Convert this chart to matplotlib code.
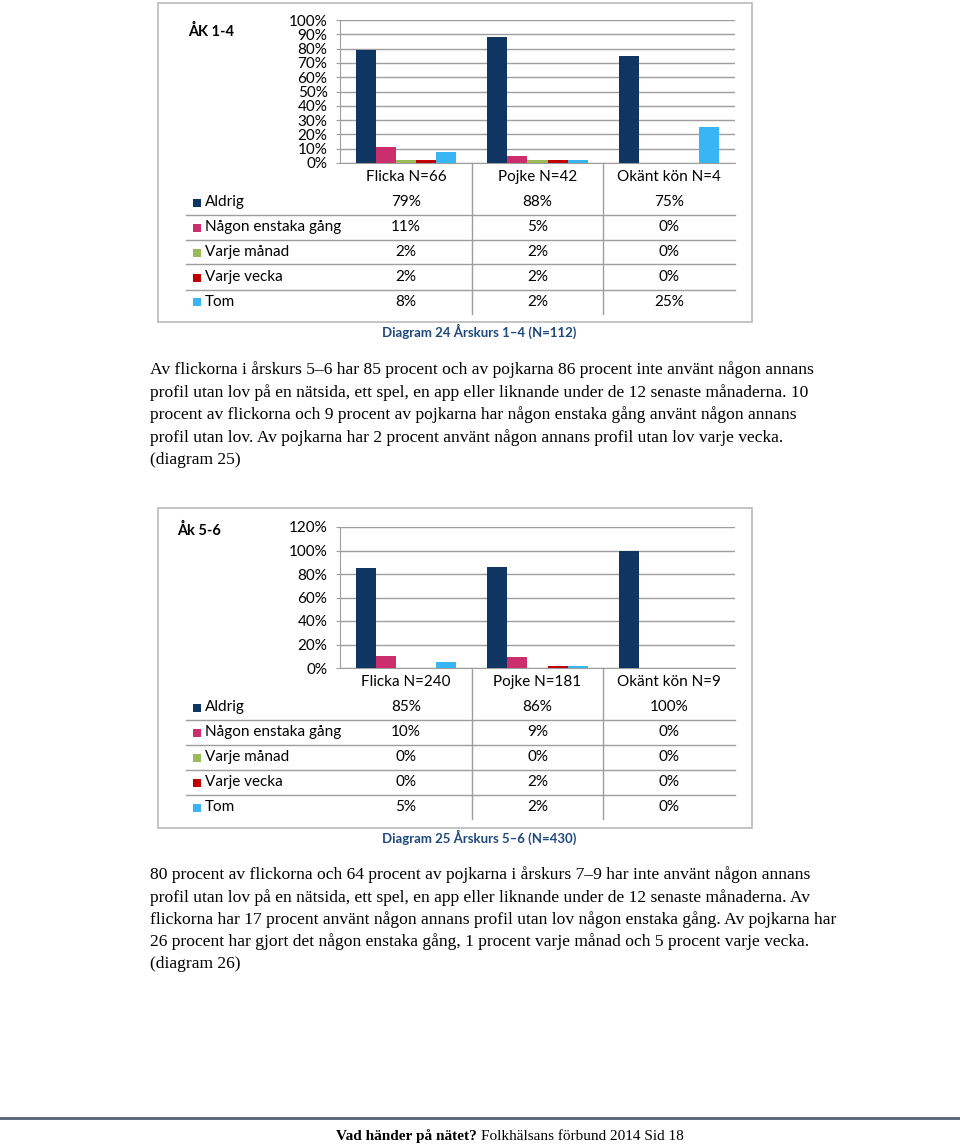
import matplotlib
matplotlib.use("Agg")
import matplotlib.pyplot as plt
from matplotlib.patches import Rectangle
from matplotlib.lines import Line2D
from matplotlib.ticker import PercentFormatter

W, H = 960, 1145

series = ["Aldrig", "Någon enstaka gång", "Varje månad", "Varje vecka", "Tom"]
colors = ["#0F3563", "#CC2D6C", "#9BBB59", "#C00000", "#38B6F4"]

cats1 = ["Flicka N=66", "Pojke N=42", "Okänt kön N=4"]
aldrig1 = [79, 88, 75]
nagon1 = [11, 5, 0]
manad1 = [2, 2, 0]
vecka1 = [2, 2, 0]
tom1 = [8, 2, 25]

cats2 = ["Flicka N=240", "Pojke N=181", "Okänt kön N=9"]
aldrig2 = [85, 86, 100]
nagon2 = [10, 9, 0]
manad2 = [0, 0, 0]
vecka2 = [0, 2, 0]
tom2 = [5, 2, 0]

para1 = [
    "Av flickorna i årskurs 5–6 har 85 procent och av pojkarna 86 procent inte använt någon annans",
    "profil utan lov på en nätsida, ett spel, en app eller liknande under de 12 senaste månaderna. 10",
    "procent av flickorna och 9 procent av pojkarna har någon enstaka gång använt någon annans",
    "profil utan lov. Av pojkarna har 2 procent använt någon annans profil utan lov varje vecka.",
    "(diagram 25)",
]
para2 = [
    "80 procent av flickorna och 64 procent av pojkarna i årskurs 7–9 har inte använt någon annans",
    "profil utan lov på en nätsida, ett spel, en app eller liknande under de 12 senaste månaderna. Av",
    "flickorna har 17 procent använt någon annans profil utan lov någon enstaka gång. Av pojkarna har",
    "26 procent har gjort det någon enstaka gång, 1 procent varje månad och 5 procent varje vecka.",
    "(diagram 26)",
]

fig = plt.figure(figsize=(W / 100, H / 100), dpi=100)
fig.patch.set_facecolor("white")

SANS = "Lato"
SERIF = "Liberation Serif"
TFS = 11
GRID = "#9E9E9E"


def fx(x):
    return x / W


def fy(y):
    return 1 - y / H


def hline(x0, x1, y, color=GRID, lw=1.0):
    fig.add_artist(Line2D([fx(x0), fx(x1)], [fy(y), fy(y)], color=color, lw=lw))


def vline(x, y0, y1, color=GRID, lw=1.0):
    fig.add_artist(Line2D([fx(x), fx(x)], [fy(y0), fy(y1)], color=color, lw=lw))


def chart(box, plot, ymax, ystep, cats, data, title, title_xy, caption):
    bx0, by0, bx1, by1 = box
    fig.add_artist(Rectangle((fx(bx0), fy(by1)), fx(bx1 - bx0), (by1 - by0) / H,
                             fill=False, edgecolor="#BFBFBF", lw=1.3))
    px0, py0, px1, py1 = plot
    ax = fig.add_axes([fx(px0), fy(py1), fx(px1 - px0), (py1 - py0) / H])
    n = len(series)
    w = 0.152
    for j, (vals, c) in enumerate(zip(data, colors)):
        xs = [i + (j - (n - 1) / 2) * w for i in range(len(cats))]
        ax.bar(xs, vals, width=w, color=c, zorder=3)
    ax.set_xlim(-0.5, len(cats) - 0.5)
    ax.set_ylim(0, ymax)
    ax.set_yticks(range(0, ymax + 1, ystep))
    ax.yaxis.set_major_formatter(PercentFormatter(decimals=0))
    ax.set_xticks([])
    ax.grid(axis="y", color=GRID, lw=1.0, zorder=0)
    for s in ["top", "right"]:
        ax.spines[s].set_visible(False)
    ax.spines["left"].set_color(GRID)
    ax.spines["bottom"].set_color(GRID)
    ax.tick_params(axis="y", length=3, color=GRID, labelsize=11, pad=6)
    for lab in ax.get_yticklabels():
        lab.set_fontfamily(SANS)
    ax.set_facecolor("none")

    # data table
    colw = (px1 - px0) / len(cats)
    for i, cat in enumerate(cats):
        fig.text(fx(px0 + colw * (i + 0.5)), fy(py1 + 14), cat, ha="center", va="center",
                 fontsize=TFS, family=SANS)
    row_y = [py1 + 39 + 25 * k for k in range(n)]
    for k in range(1, len(cats)):
        vline(px0 + colw * k, py1, row_y[-1] + 12)
    for k in range(n - 1):
        hline(186, px1, row_y[k] + 12.5)
    for k, (name, vals, c) in enumerate(zip(series, data, colors)):
        fig.add_artist(Rectangle((fx(193), fy(row_y[k] + 4.5)), fx(8), 8 / H,
                                 facecolor=c, edgecolor="none"))
        fig.text(fx(205), fy(row_y[k]), name, ha="left", va="center", fontsize=TFS, family=SANS)
        for i, v in enumerate(vals):
            fig.text(fx(px0 + colw * (i + 0.5)), fy(row_y[k]), f"{v}%", ha="center",
                     va="center", fontsize=TFS, family=SANS)
    fig.text(fx(title_xy[0]), fy(title_xy[1]), title, ha="left", va="center", fontsize=10.5,
             weight="bold", family=SANS)
    fig.text(fx(479), fy(by1 + 9), caption, ha="center", va="center", fontsize=9.5,
             weight="bold", family=SANS, color="#1F497D")


chart((158, 3, 752, 322), (340, 20, 735, 163), 100, 10, cats1,
      [aldrig1, nagon1, manad1, vecka1, tom1], "ÅK 1-4", (188, 31),
      "Diagram 24 Årskurs 1–4 (N=112)")
chart((158, 508, 752, 828), (340, 527, 735, 668), 120, 20, cats2,
      [aldrig2, nagon2, manad2, vecka2, tom2], "Åk 5-6", (177, 530),
      "Diagram 25 Årskurs 5–6 (N=430)")

for k, line in enumerate(para1):
    fig.text(fx(150), fy(370 + 22.5 * k), line, ha="left", va="center", fontsize=12.6,
             family=SERIF)
for k, line in enumerate(para2):
    fig.text(fx(150), fy(875 + 22.3 * k), line, ha="left", va="center", fontsize=12.6,
             family=SERIF)

hline(0, 960, 1118, color="#4F6273", lw=2.0)
t1 = fig.text(fx(336), fy(1136), "Vad händer på nätet?", ha="left", va="center",
              fontsize=11, weight="bold", family=SERIF)
fig.canvas.draw()
bb = t1.get_window_extent()
fig.text(bb.x1 / W + fx(4), fy(1136), "Folkhälsans förbund 2014 Sid 18", ha="left",
         va="center", fontsize=11, family=SERIF)

fig.savefig("out.png", dpi=100)
